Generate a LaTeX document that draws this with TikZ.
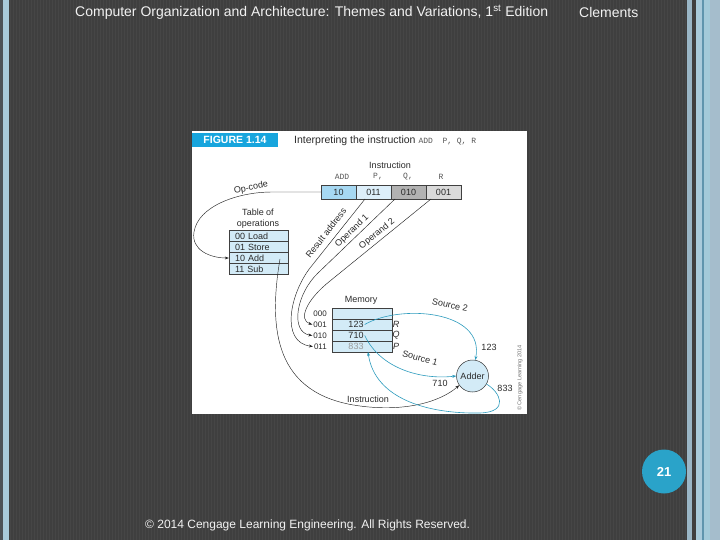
\documentclass[tikz,border=0pt]{standalone}
\usepackage{fontspec}
\setmainfont{Liberation Sans}
\newfontfamily\monof{Liberation Mono}
\usetikzlibrary{arrows.meta}
\definecolor{bgdark}{HTML}{3F3F3F}
\definecolor{bgstripe}{HTML}{464646}
\definecolor{edgeL}{HTML}{4D5358}
\definecolor{paleblue}{HTML}{A9CBDB}
\definecolor{steel}{HTML}{9AB6C6}
\definecolor{tealline}{HTML}{5F95AD}
\definecolor{paletwo}{HTML}{A3CAD9}
\definecolor{greyblue}{HTML}{A5BDCC}
\definecolor{figblue}{HTML}{17A5DD}
\definecolor{lblue}{HTML}{D3EBF7}
\definecolor{mblue}{HTML}{A6D8F2}
\definecolor{vlblue}{HTML}{DDEFFA}
\definecolor{dgray}{HTML}{B2B2B2}
\definecolor{lgray}{HTML}{DADADA}
\definecolor{cline}{HTML}{2E9CBE}
\definecolor{txt}{HTML}{2A2A2A}
\definecolor{monogray}{HTML}{555555}
\definecolor{pagec}{HTML}{2AA3C9}
\definecolor{headtxt}{HTML}{F2F2F2}
\tikzset{
  lab/.style={font=\fontsize{9}{10}\selectfont, text=txt, inner sep=0},
  ibox/.style={draw=black!75, line width=0.4pt, minimum width=35pt, minimum height=14pt, inner sep=0, font=\fontsize{9}{10}\selectfont, text=txt},
  trow/.style={draw=black!75, line width=0.4pt, fill=lblue, text width=47pt, align=left, inner xsep=6pt, inner ysep=0pt, minimum height=11pt, font=\fontsize{9}{9}\selectfont, text=txt},
  mrow/.style={draw=black!75, line width=0.4pt, fill=lblue, minimum width=60pt, minimum height=11pt, inner sep=0},
  bwire/.style={draw=black!85, line width=0.45pt, -{Stealth[length=4pt,width=3pt]}},
  cwire/.style={draw=cline, line width=0.6pt, -{Stealth[length=4pt,width=3pt]}},
  monolab/.style={font=\monof\fontsize{8}{9}\selectfont, text=monogray, inner sep=0},
}
\begin{document}
\begin{tikzpicture}[x=1pt,y=-1pt]
\useasboundingbox (0,0) rectangle (720,540);
% background
\fill[bgdark] (0,0) rectangle (720,540);
\foreach \i in {0,...,225} \fill[bgstripe] ({10+3*\i},0) rectangle ++(1.2,540);
\fill[edgeL] (0,0) rectangle (3,540);
\fill[paleblue] (3,0) rectangle (9,540);
\fill[steel] (687,0) rectangle (692,540);
\fill[bgdark] (692,0) rectangle (696,540);
\fill[paleblue] (696,0) rectangle (702,540);
\fill[tealline] (702,0) rectangle (703.5,540);
\fill[paletwo] (703.5,0) rectangle (710,540);
\fill[greyblue] (710,0) rectangle (720,540);
% header and footer
\node[anchor=west, inner sep=0, text=headtxt, font=\fontsize{14}{16}\selectfont] (head) at (75,12) {Computer Organization and Architecture: Themes and Variations, 1\textsuperscript{st} Edition};
\node[anchor=west, inner sep=0, text=headtxt, font=\fontsize{14}{16}\selectfont] (author) at (579,12) {Clements};
\node[anchor=west, inner sep=0, text=headtxt, font=\fontsize{12}{14}\selectfont] (foot) at (145,525) {© 2014 Cengage Learning Engineering. All Rights Reserved.};
\node[circle, fill=pagec, minimum size=44pt, inner sep=0, text=white, font=\bfseries\fontsize{13}{14}\selectfont] (page) at (664,471.5) {21};
% figure
\fill[white] (192,131) rectangle (527,414);
\node[fill=figblue, minimum width=86pt, minimum height=14pt, inner sep=0, text=white, font=\bfseries\fontsize{10.5}{12}\selectfont] (figbar) at (235,140) {FIGURE 1.14};
\node[anchor=west, lab, font=\fontsize{10.5}{12}\selectfont] (title) at (294,140.5) {Interpreting the instruction \textcolor{monogray}{\monof\fontsize{8}{10}\selectfont ADD\ \ P,\ Q,\ R}};
% instruction
\node[lab] (instr) at (390,165) {Instruction};
\node[monolab] (hadd) at (342,176.5) {ADD};
\node[monolab] (hp) at (378,176.5) {P,};
\node[monolab] (hq) at (408,176.5) {Q,};
\node[monolab] (hr) at (441,176.5) {R};
\node[ibox, fill=mblue] (b1) at (338.5,192) {10};
\node[ibox, fill=vlblue] (b2) at (373.5,192) {011};
\node[ibox, fill=dgray] (b3) at (408.5,192) {010};
\node[ibox, fill=lgray] (b4) at (443.5,192) {001};
% table of operations
\node[lab, align=center, font=\fontsize{9}{11}\selectfont] (tlabel) at (258,218.5) {Table of\\operations};
\node[trow] (t0) at (258.5,236) {00 Load};
\node[trow] (t1) at (258.5,247) {01 Store};
\node[trow] (t2) at (258.5,258) {10 Add};
\node[trow] (t3) at (258.5,269) {11 Sub};
\node[lab, rotate=11] (opcode) at (251,188) {Op-code};
% memory
\node[lab] (memlab) at (361,300) {Memory};
\node[mrow] (m0) at (362,313.5) {};
\node[mrow] (m1) at (362,324.5) {};
\node[mrow] (m2) at (362,335.5) {};
\node[mrow] (m3) at (362,346.5) {};
\node[lab] (v1) at (356,324.5) {123};
\node[lab] (v2) at (356,335.5) {710};
\node[lab, text=black!40] (v3) at (356,346.5) {833};
\node[lab, anchor=east, font=\fontsize{8}{9}\selectfont] (a0) at (327,313.5) {000};
\node[lab, anchor=east, font=\fontsize{8}{9}\selectfont] (a1) at (327,324.5) {001};
\node[lab, anchor=east, font=\fontsize{8}{9}\selectfont] (a2) at (327,335.5) {010};
\node[lab, anchor=east, font=\fontsize{8}{9}\selectfont] (a3) at (327,346.5) {011};
\node[lab, font=\itshape\fontsize{9}{10}\selectfont] (nr) at (396,324.5) {R};
\node[lab, font=\itshape\fontsize{9}{10}\selectfont] (nq) at (396,335.5) {Q};
\node[lab, font=\itshape\fontsize{9}{10}\selectfont] (np) at (396,346.5) {P};
% adder
\node[circle, draw=black!80, line width=0.5pt, fill=lblue, minimum size=32pt, lab] (adder) at (472.5,376) {Adder};
% labels
\node[lab, rotate=52] (lres) at (326,233) {Result address};
\node[lab, rotate=44] (lop1) at (352,231) {Operand 1};
\node[lab, rotate=39] (lop2) at (377,234) {Operand 2};
\node[lab, rotate=-12] (ls2) at (450,305) {Source 2};
\node[lab, rotate=-15] (ls1) at (420,358) {Source 1};
\node[lab] (l123) at (489,347) {123};
\node[lab] (l710) at (440,383) {710};
\node[lab] (l833) at (505,388) {833};
\node[lab] (linstr) at (368,399.5) {Instruction};
\node[inner sep=0, rotate=90, text=black!55, font=\fontsize{5.6}{6}\selectfont] (copy) at (520,378) {© Cengage Learning 2014};
% black connectors
\draw[bwire] (b1.west) -- (272,192) .. controls (238,192) and (198,206) .. (194,232) .. controls (191,250) and (210,258) .. (t2.west);
\draw[bwire] (280,259) .. controls (268,330) and (275,395) .. (360,406) .. controls (405,412) and (440,402) .. (adder.215);
\draw[bwire] (365,199) -- (310,268) .. controls (290,294) and (280,342) .. ([xshift=-1pt]a3.west);
\draw[bwire] (395,199) -- (318,273) .. controls (296,294) and (290,332) .. ([xshift=-1pt]a2.west);
\draw[bwire] (431,199) -- (330,281) .. controls (306,300) and (298,320) .. ([xshift=-1pt]a1.west);
% cyan connectors
\draw[cwire] ([xshift=1pt]v1.east) .. controls (400,304) and (485,310) .. (adder.80);
\draw[cwire] ([xshift=1pt]v2.east) .. controls (380,368) and (420,380) .. (adder.west);
\draw[cwire] (adder.-30) .. controls (500,392) and (510,412) .. (480,413) .. controls (430,414) and (375,400) .. (368,352);
\end{tikzpicture}
\end{document}
